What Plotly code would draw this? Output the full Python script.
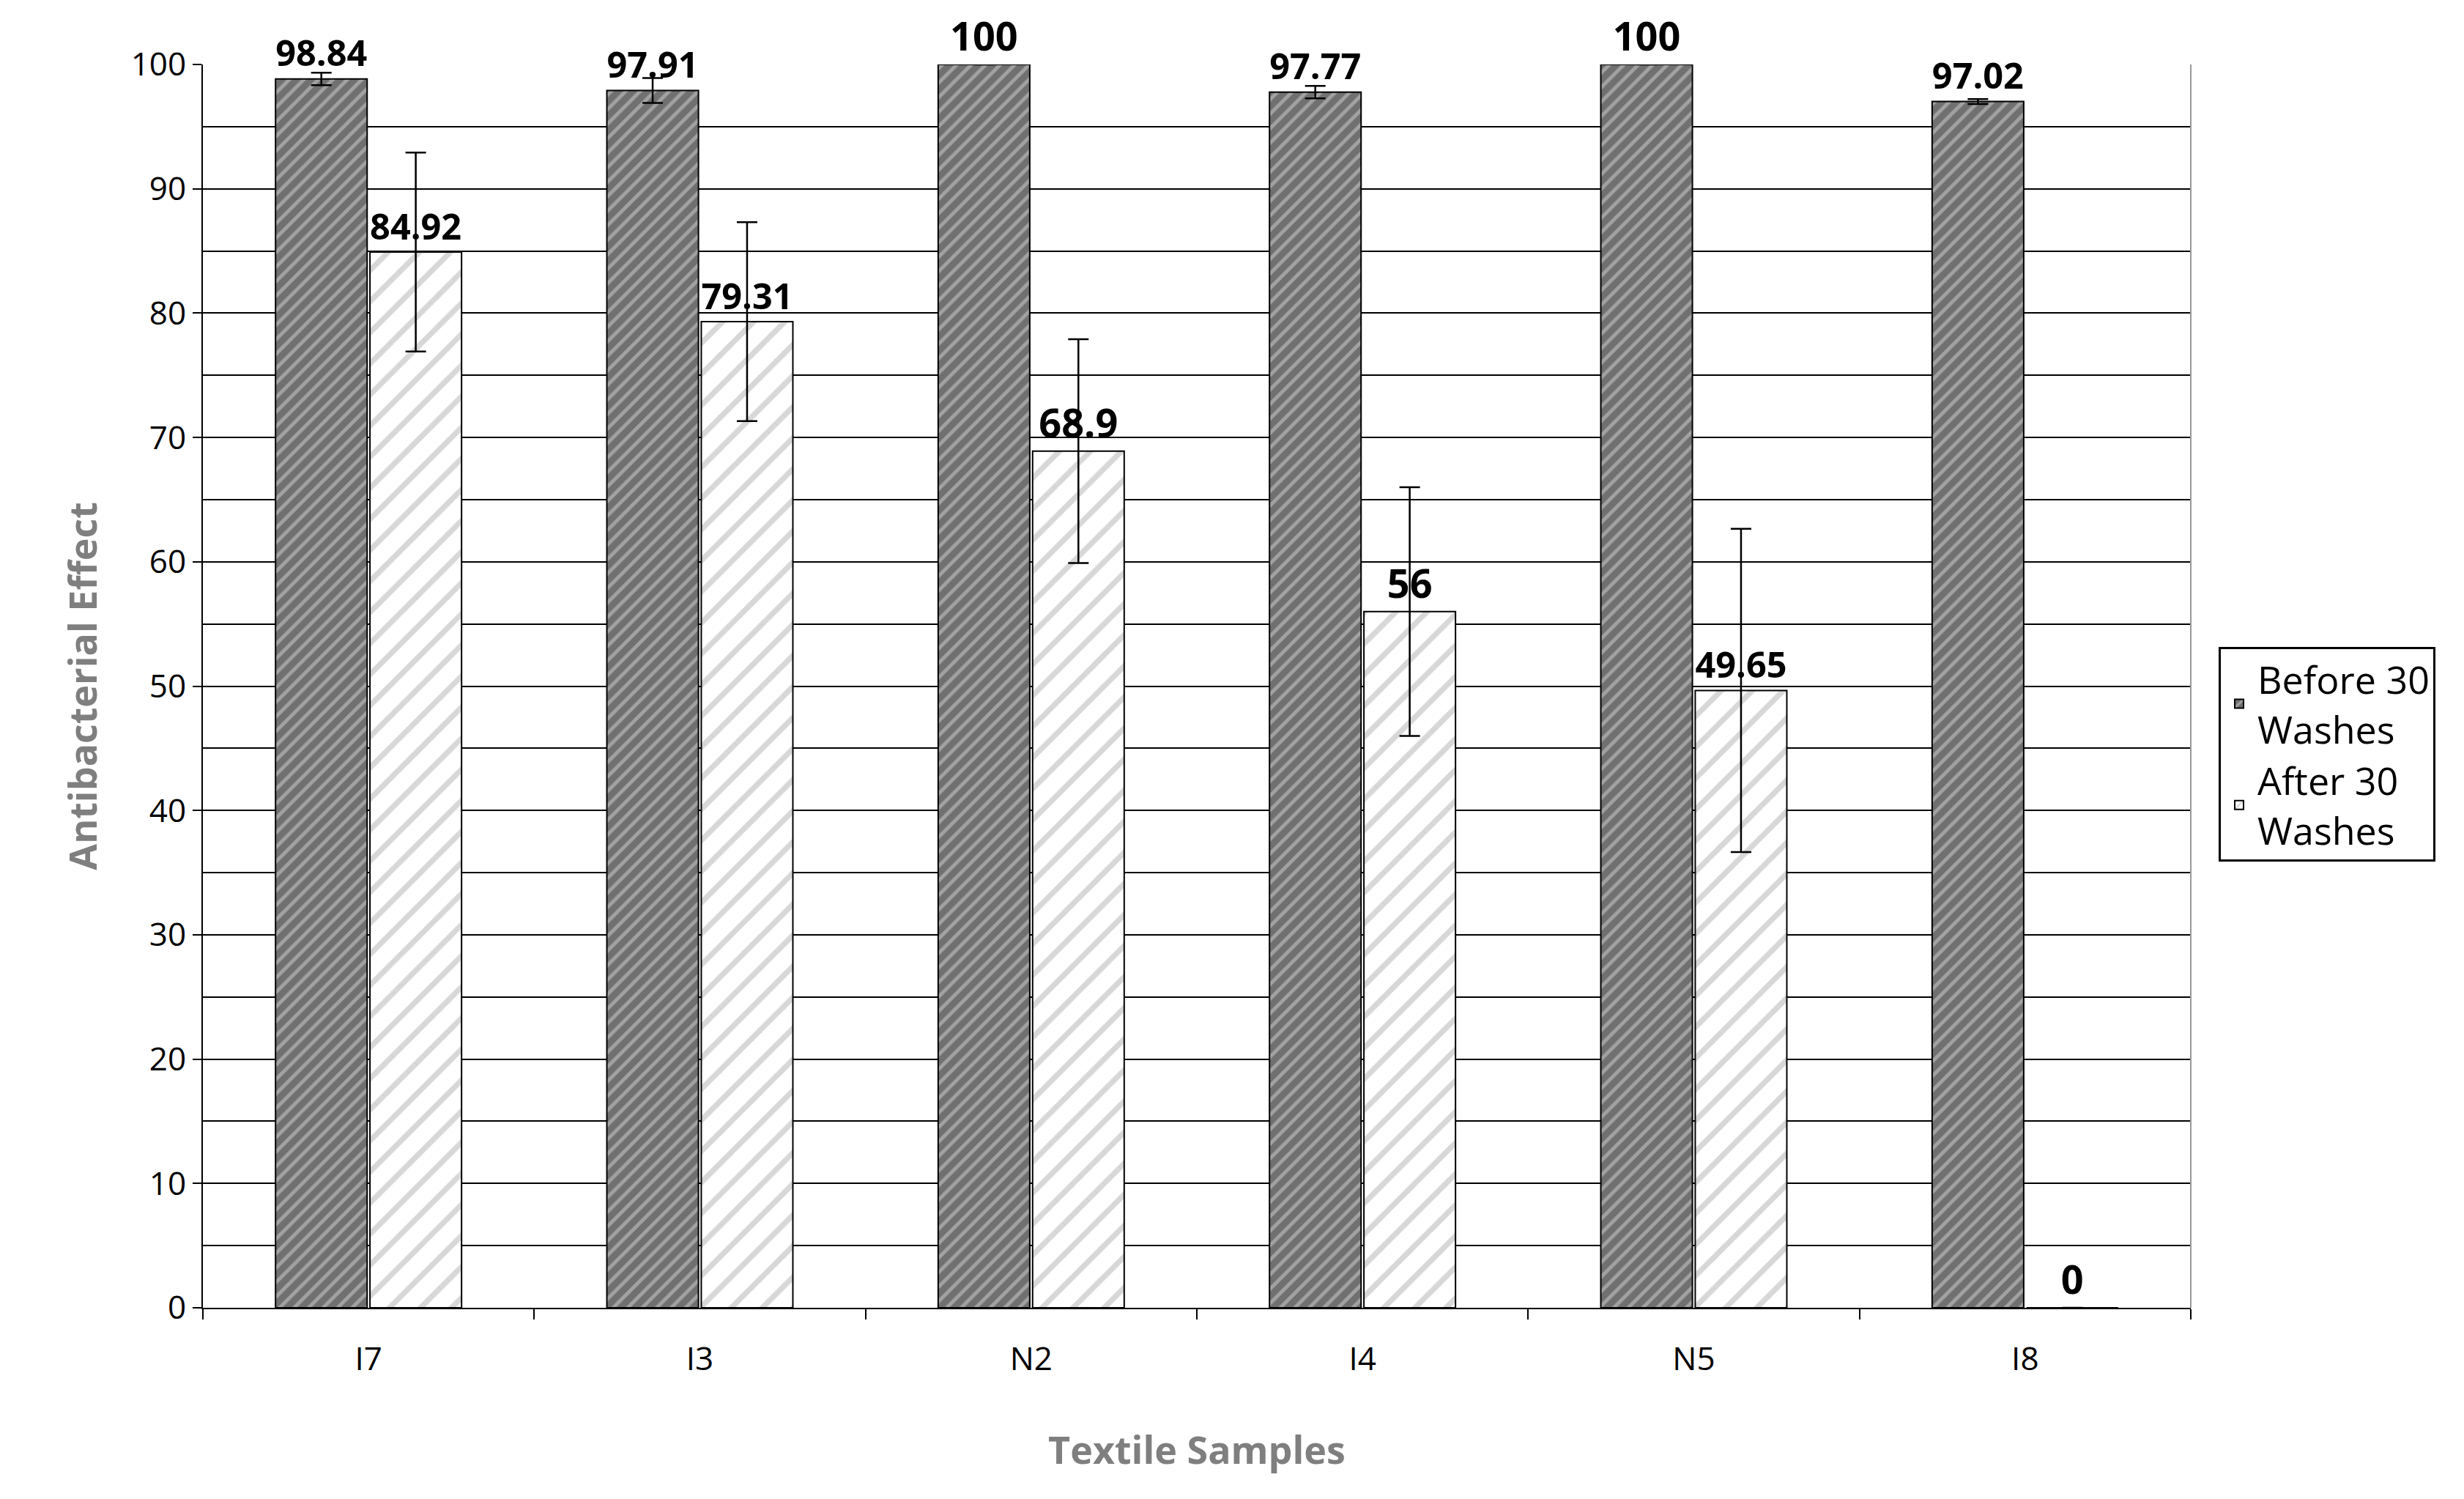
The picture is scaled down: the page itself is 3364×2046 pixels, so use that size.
import plotly.graph_objects as go

samples = ["I7", "I3", "N2", "I4", "N5", "I8"]
before = [98.84, 97.91, 100, 97.77, 100, 97.02]
before_err = [0.5, 1.0, 0, 0.5, 0, 0.2]
after = [84.92, 79.31, 68.9, 56, 49.65, 0]
after_err = [8, 8, 9, 10, 13, 0]

fig = go.Figure()
fig.add_bar(x=samples, y=before, name="Before 30<br>Washes",
            marker=dict(color="#707070", line=dict(color="black", width=2),
                        pattern=dict(shape="/", bgcolor="#707070", fgcolor="#d4d4d4", size=14, solidity=0.35)),
            error_y=dict(type="data", array=before_err, color="black", thickness=2.5, width=14),
            text=before, texttemplate="<b>%{y}</b>", textposition="outside",
            textfont=dict(size=54, color="black", family="Open Sans"), cliponaxis=False)
fig.add_bar(x=samples, y=after, name="After 30<br>Washes",
            marker=dict(color="white", line=dict(color="black", width=2),
                        pattern=dict(shape="/", bgcolor="white", fgcolor="#b0b0b0", size=30, solidity=0.25)),
            error_y=dict(type="data", array=after_err, color="black", thickness=2.5, width=14),
            text=after, texttemplate="<b>%{y}</b>", textposition="outside",
            textfont=dict(size=54, color="black", family="Open Sans"), cliponaxis=False)

fig.update_layout(
    width=3364, height=2046, paper_bgcolor="white", plot_bgcolor="white",
    margin=dict(l=269, r=381, t=80, b=269),
    barmode="group", bargap=0.43, bargroupgap=0.03,
    font=dict(family="Open Sans", color="black"),
    legend=dict(x=1.014, y=0.445, xanchor="left", yanchor="middle",
                bordercolor="black", borderwidth=3, font=dict(size=52),
                tracegroupgap=110, itemwidth=40, itemsizing="constant"),
)
fig.update_yaxes(range=[0, 100], dtick=10, showgrid=True, gridcolor="black", gridwidth=2,
                 minor=dict(dtick=5, showgrid=True, gridcolor="black", gridwidth=2),
                 ticks="outside", ticklen=12, tickwidth=2, tickcolor="black",
                 showline=True, linecolor="black", linewidth=2,
                 tickfont=dict(size=44), zeroline=False,
                 title=dict(text="<b>Antibacterial Effect</b>", font=dict(size=52, color="#7f7f7f"), standoff=30))
fig.update_xaxes(tickson="boundaries", ticks="outside", ticklen=14, tickwidth=2, tickcolor="black",
                 showline=True, linecolor="black", linewidth=2, mirror=False,
                 tickfont=dict(size=44), ticklabelstandoff=30,
                 title=dict(text="<b>Textile Samples</b>", font=dict(size=52, color="#7f7f7f"), standoff=80))
fig.add_shape(type="line", xref="paper", yref="paper", x0=1, x1=1, y0=0, y1=1,
              line=dict(color="#999999", width=2))
fig.write_html("out.html")
